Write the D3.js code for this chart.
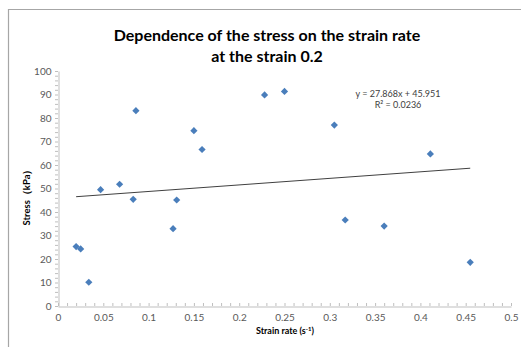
<!DOCTYPE html>
<html>
<head>
<meta charset="utf-8">
<script src="https://cdn.jsdelivr.net/npm/d3@7"></script>
<style>
  body { margin: 0; background: #fff; }
  svg { display: block; font-family: Lato, "Open Sans", sans-serif; }
</style>
</head>
<body>
<div id="chart"></div>
<script>
let width = 521,
    height = 347,
    margin = ({ top: 71, right: 10, bottom: 41, left: 58 });

// strain rate (s-1) and stress (kPa)
const strainRate = [0.020, 0.025, 0.034, 0.047, 0.068, 0.083, 0.086, 0.127, 0.131,
                    0.150, 0.159, 0.228, 0.250, 0.305, 0.317, 0.360, 0.411, 0.455];
const stress     = [25.3, 24.3, 10.1, 49.5, 51.8, 45.4, 83.1, 32.9, 45.1,
                    74.6, 66.6, 89.8, 91.3, 77.0, 36.6, 34.0, 64.7, 18.6];

const xTicks = [0, 0.05, 0.1, 0.15, 0.2, 0.25, 0.3, 0.35, 0.4, 0.45, 0.5];
const yTicks = [0, 10, 20, 30, 40, 50, 60, 70, 80, 90, 100];

// linear trendline as printed on the chart
const slope = 27.868, intercept = 45.951;
const rSquared = "0.0236";

const data = strainRate.map((x, i) => ({ x: x, y: stress[i] }));

const svg = d3.select("#chart")
  .append("svg")
  .attr("width", width)
  .attr("height", height);

// chart border (cropped at right and bottom)
svg.append("path")
  .attr("d", `M8.5,${height + 2}V9.5H${width + 2}`)
  .attr("fill", "none")
  .attr("stroke", "#a6a6a6")
  .attr("stroke-width", 1.2);

let x = d3.scaleLinear()
  .domain([0, 0.5])
  .range([margin.left, width - margin.right]);

let y = d3.scaleLinear()
  .domain([0, 100])
  .range([height - margin.bottom, margin.top]);

// title
const title = svg.append("text")
  .attr("text-anchor", "middle")
  .attr("font-weight", "bold")
  .attr("font-size", "16px")
  .attr("fill", "#000");
title.append("tspan").attr("x", 267).attr("y", 41).text("Dependence of the stress on the strain rate");
title.append("tspan").attr("x", 267).attr("y", 62).text("at the strain 0.2");

// minor ticks
const axisColor = "#bfbfbf";
svg.append("g")
  .selectAll("line")
  .data(d3.range(0, 0.5001, 0.01))
  .join("line")
  .attr("x1", d => x(d) + 0.5).attr("x2", d => x(d) + 0.5)
  .attr("y1", y(0) - 3).attr("y2", y(0))
  .attr("stroke", axisColor);

svg.append("g")
  .selectAll("line")
  .data(d3.range(0, 100.01, 2))
  .join("line")
  .attr("x1", x(0)).attr("x2", x(0) - 3)
  .attr("y1", d => y(d) + 0.5).attr("y2", d => y(d) + 0.5)
  .attr("stroke", axisColor);

// axes
const xAxis = svg.append("g")
  .attr("transform", `translate(0,${y(0) + 0.5})`)
  .call(d3.axisBottom(x).tickValues(xTicks).tickSize(0).tickPadding(7)
    .tickFormat(d => d3.format("~g")(d)));

const yAxis = svg.append("g")
  .attr("transform", `translate(${x(0) + 0.5},0)`)
  .call(d3.axisLeft(y).tickValues(yTicks).tickSize(0).tickPadding(7));

[xAxis, yAxis].forEach(g => {
  g.select(".domain").attr("stroke", axisColor);
  g.selectAll("text")
    .attr("fill", "#595959")
    .style("font-size", "10px")
    .style("font-family", "Lato, 'Open Sans', sans-serif");
});

// axis titles
const xTitle = svg.append("text")
  .attr("x", 285).attr("y", 334)
  .attr("text-anchor", "middle")
  .attr("font-weight", "bold")
  .attr("font-size", "9px")
  .attr("fill", "#000");
xTitle.append("tspan").text("Strain rate (s");
xTitle.append("tspan").attr("font-size", "6px").attr("dy", -3).text("-1");
xTitle.append("tspan").attr("dy", 3).text(")");

svg.append("text")
  .attr("transform", "translate(30,195) rotate(-90)")
  .attr("text-anchor", "middle")
  .attr("font-weight", "bold")
  .attr("font-size", "9.5px")
  .attr("fill", "#000")
  .text("Stress（kPa）");

// trendline over the data range
const xr = d3.extent(data, d => d.x);
svg.append("line")
  .attr("x1", x(xr[0]))
  .attr("x2", x(xr[1]))
  .attr("y1", y(slope * xr[0] + intercept))
  .attr("y2", y(slope * xr[1] + intercept))
  .attr("stroke", "#404040")
  .attr("stroke-width", 1);

// points
svg.append("g")
  .selectAll("path")
  .data(data)
  .join("path")
  .attr("d", d3.symbol(d3.symbolSquare, 26))
  .attr("transform", d => `translate(${x(d.x)},${y(d.y)}) rotate(45)`)
  .attr("fill", "#4a7ebb");

// equation label
const eq = svg.append("text")
  .attr("text-anchor", "middle")
  .attr("font-size", "9px")
  .attr("fill", "#404040");
eq.append("tspan").attr("x", 398).attr("y", 97)
  .text(`y = ${slope}x + ${intercept}`);
eq.append("tspan").attr("x", 398).attr("y", 108)
  .text(`R² = ${rSquared}`);
</script>
</body>
</html>
